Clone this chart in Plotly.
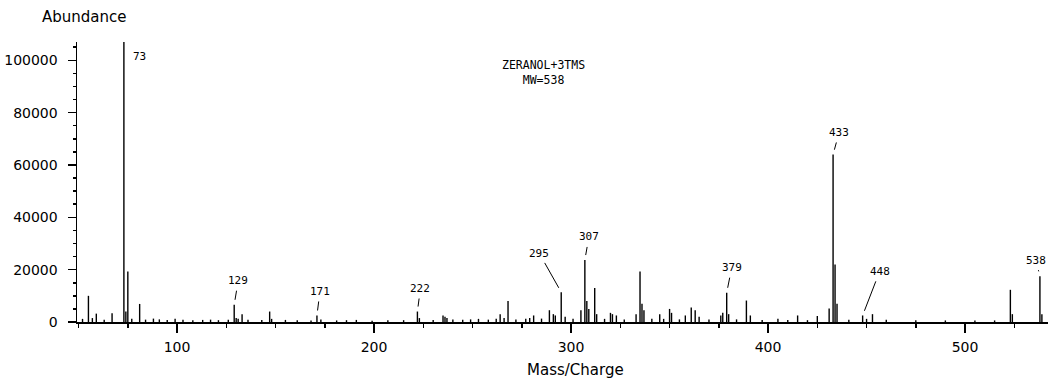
import plotly.graph_objects as go

# ---- data ----
mz = [52, 55, 57, 59, 63, 67, 73, 74, 75, 77, 81, 84, 88, 91, 95, 99, 103, 108, 113, 117, 121, 126,
      129, 130, 131, 133, 136, 143, 147, 148, 155, 161, 168, 171, 173, 181, 186, 191, 199, 207, 215,
      222, 223, 230, 235, 236, 237, 240, 245, 249, 253, 258, 262, 264, 266, 268, 272, 277, 279, 281,
      285, 289, 291, 292, 295, 297, 301, 305, 307, 308, 309, 312, 313, 317, 320, 321, 323, 327, 333,
      335, 336, 337, 341, 345, 347, 350, 351, 355, 358, 361, 363, 365, 370, 376, 377, 379, 380, 384,
      389, 391, 397, 405, 410, 415, 420, 425, 431, 433, 434, 435, 441, 448, 450, 453, 460, 475, 490,
      505, 515, 523, 524, 538, 539]
abundance = [1200, 10000, 1500, 3200, 900, 3300, 107000, 4000, 19300, 1200, 6900, 900, 1300, 1000, 800, 1200, 900, 700, 800, 900, 700, 900,
             6600, 1500, 1200, 3000, 900, 800, 4000, 1200, 800, 700, 600, 2500, 1000, 600, 700, 800, 500, 700, 700,
             4000, 1500, 800, 2500, 2000, 1500, 1000, 900, 1000, 1200, 900, 1200, 3000, 1500, 8000, 1000, 1200, 1500, 2500,
             1300, 4500, 3000, 2500, 11400, 2000, 1200, 4500, 23700, 8000, 5000, 13000, 3000, 1200, 3500, 3000, 2500, 1000, 3000,
             19300, 7000, 4500, 1200, 3000, 1200, 5000, 3500, 1000, 2500, 5500, 4500, 2000, 1000, 2500, 3500, 11200, 3000, 1000,
             8200, 2500, 800, 1200, 800, 2500, 700, 2300, 5200, 64000, 22000, 7000, 900, 2500, 1200, 3000, 900, 700, 600,
             600, 600, 12300, 3000, 17500, 3000]

labels = ["73", "129", "171", "222", "295", "307", "379", "433", "448", "538"]
label_mz = [73, 129, 171, 222, 295, 307, 379, 433, 448, 538]

x_ticks = [100, 200, 300, 400, 500]
y_ticks = [0, 20000, 40000, 60000, 80000, 100000]

title_lines = ["ZERANOL+3TMS", "MW=538"]

# ---- build stick traces ----
xs, ys = [], []
for m, a in zip(mz, abundance):
    xs += [m, m, None]
    ys += [0, a, None]

fig = go.Figure()
fig.add_trace(go.Scatter(x=xs, y=ys, mode="lines",
                         line=dict(color="black", width=1.4),
                         hoverinfo="skip", showlegend=False, cliponaxis=False))

# label offsets (pixels): (ax, ay, showarrow)
label_style = {
    "73": (16, 14, False),
    "129": (4, -24, True),
    "171": (3, -24, True),
    "222": (3, -23, True),
    "295": (-22, -39, True),
    "307": (4, -23, True),
    "379": (5, -25, True),
    "433": (6, -22, True),
    "448": (17, -44, True),
    "538": (-4, -16, True),
}
ab_lookup = dict(zip(mz, abundance))
annotations = []
for lab, m in zip(labels, label_mz):
    ax, ay, arrow = label_style[lab]
    a = ab_lookup[m]
    if arrow:
        annotations.append(dict(x=m, y=a, xref="x", yref="y", text=lab,
                                showarrow=True, arrowhead=0, arrowwidth=1, arrowcolor="black",
                                ax=ax, ay=ay, standoff=5, startstandoff=2,
                                font=dict(family="DejaVu Sans Mono", size=11, color="black")))
    else:
        annotations.append(dict(x=m, y=a, xref="x", yref="y", text=lab, showarrow=False,
                                xshift=ax, yshift=-ay, xanchor="center", yanchor="middle",
                                font=dict(family="DejaVu Sans Mono", size=11, color="black")))

annotations.append(dict(x=0.48, y=0.89, xref="paper", yref="paper",
                        text="<br>".join(title_lines), showarrow=False, align="center",
                        font=dict(family="DejaVu Sans Mono", size=11.5, color="black"),
                        xanchor="center", yanchor="middle"))
annotations.append(dict(x=-0.038, y=1.09, xref="paper", yref="paper", text="Abundance",
                        showarrow=False, xanchor="left", yanchor="middle",
                        font=dict(family="DejaVu Sans", size=15, color="black")))
annotations.append(dict(x=0.513, y=-0.17, xref="paper", yref="paper", text="Mass/Charge",
                        showarrow=False, xanchor="center", yanchor="middle",
                        font=dict(family="DejaVu Sans", size=15, color="black")))

fig.update_layout(
    width=1056, height=384,
    margin=dict(l=77, r=8, t=42, b=62, autoexpand=False),
    paper_bgcolor="white", plot_bgcolor="white",
    annotations=annotations,
    font=dict(family="DejaVu Sans", size=14, color="black"),
    xaxis=dict(range=[49.2, 542.1], tickvals=x_ticks, ticktext=[str(v) for v in x_ticks],
               ticks="outside", ticklen=9, tickwidth=1.5, tickcolor="black", automargin=False,
               showline=True, linecolor="black", linewidth=1.5, showgrid=False, zeroline=False,
               minor=dict(dtick=25, tick0=0, ticks="outside", ticklen=4, tickcolor="black", showgrid=False),
               tickfont=dict(family="DejaVu Sans", size=14), ticklabelstandoff=3),
    yaxis=dict(range=[0, 107000], tickvals=y_ticks, ticktext=[str(v) for v in y_ticks],
               ticks="outside", ticklen=8, tickwidth=1.5, tickcolor="black", automargin=False,
               showline=True, linecolor="black", linewidth=1.5, showgrid=False, zeroline=False,
               minor=dict(dtick=5000, tick0=0, ticks="outside", ticklen=3, tickcolor="black", showgrid=False),
               tickfont=dict(family="DejaVu Sans", size=14), ticklabelstandoff=7),
)

fig.write_html("out.html", config={"displayModeBar": False, "staticPlot": True},
               post_script="document.body.style.margin='0';document.body.style.overflow='hidden';")
